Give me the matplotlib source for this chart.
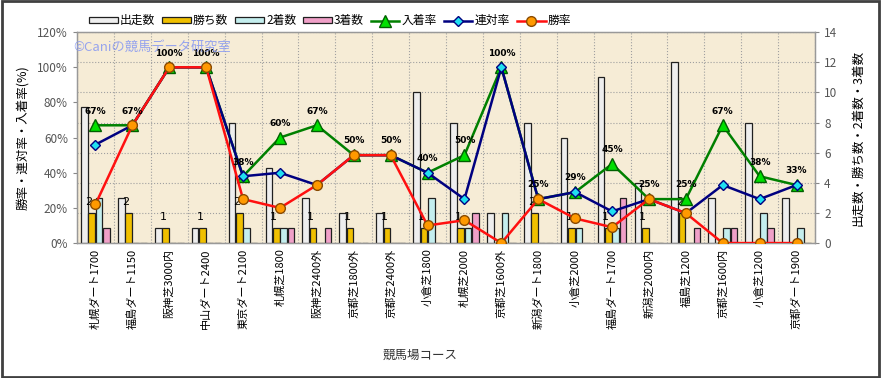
import numpy as np
import matplotlib
matplotlib.use("Agg")
import matplotlib.pyplot as plt
import matplotlib.transforms as mtransforms
from matplotlib.patches import Rectangle

plt.rcParams['font.family'] = ['Noto Sans CJK JP', 'DejaVu Sans']

# ----------------------- Data ---------------------------
courses = ["札幌ダート1700", "福島ダート1150", "阪神芝3000内", "中山ダート2400",
           "東京ダート2100", "札幌芝1800", "阪神芝2400外", "京都芝1800外",
           "京都芝2400外", "小倉芝1800", "札幌芝2000", "京都芝1600外",
           "新潟ダート1800", "小倉芝2000", "福島ダート1700", "新潟芝2000内",
           "福島芝1200", "京都芝1600内", "小倉芝1200", "京都ダート1900"]
starts = [9, 3, 1, 1, 8, 5, 3, 2, 2, 10, 8, 2, 8, 7, 11, 4, 12, 3, 8, 3]
wins = [2, 2, 1, 1, 2, 1, 1, 1, 1, 1, 1, 0, 2, 1, 1, 1, 2, 0, 0, 0]
seconds = [3, 0, 0, 0, 1, 1, 0, 0, 0, 3, 1, 2, 0, 1, 1, 0, 0, 1, 2, 1]
thirds = [1, 0, 0, 0, 0, 1, 1, 0, 0, 0, 2, 0, 0, 0, 3, 0, 1, 1, 1, 0]
win_rate = [22, 67, 100, 100, 25, 20, 33, 50, 50, 10, 13, 0, 25, 14, 9, 25, 17, 0, 0, 0]
rentai_rate = [56, 67, 100, 100, 38, 40, 33, 50, 50, 40, 25, 100, 25, 29, 18, 25, 17, 33, 25, 33]
place_rate = [67, 67, 100, 100, 38, 60, 67, 50, 50, 40, 50, 100, 25, 29, 45, 25, 25, 67, 38, 33]

x = np.arange(len(courses))

# ----------------------- Figure ---------------------------
fig = plt.figure(figsize=(8.81, 3.78), dpi=100)
fig.patches.append(Rectangle((0.002, 0.003), 0.996, 0.994, transform=fig.transFigure,
                             fill=False, edgecolor='#404040', linewidth=2))

ax2 = fig.add_axes([0.0874, 0.357, 0.8377, 0.558])   # counts (right axis), bars
ax = ax2.twinx()                                       # rates (left axis), lines
ax.yaxis.tick_left()
ax.yaxis.set_label_position("left")
ax2.yaxis.tick_right()
ax2.yaxis.set_label_position("right")
ax2.set_facecolor('#f6ecd6')

# bars
w = 0.18
edge = '#202020'
ax2.bar(x - 0.30, starts, w, color='#eeeeee', edgecolor=edge, linewidth=0.9, zorder=3, label='出走数')
ax2.bar(x - 0.10, wins, w, color='#f0c000', edgecolor=edge, linewidth=0.9, zorder=3, label='勝ち数')
ax2.bar(x + 0.10, seconds, w, color='#c4eeee', edgecolor=edge, linewidth=0.9, zorder=3, label='2着数')
ax2.bar(x + 0.30, thirds, w, color='#f0a0c8', edgecolor=edge, linewidth=0.9, zorder=3, label='3着数')

for i, v in enumerate(wins):
    if v > 0:
        ax2.annotate(str(v), (i - 0.17, v), xytext=(0, 4), textcoords='offset points',
                     ha='center', va='bottom', fontsize=8, family='DejaVu Sans', zorder=6)

# lines
ax.plot(x, place_rate, color='#008000', linewidth=1.8, marker='^', markersize=8,
        markerfacecolor='#00e000', markeredgecolor='#006000', zorder=4, label='入着率')
ax.plot(x, rentai_rate, color='#000080', linewidth=1.8, marker='D', markersize=5.5,
        markerfacecolor='#20e0f0', markeredgecolor='#000080', zorder=5, label='連対率')
ax.plot(x, win_rate, color='#ff1010', linewidth=1.8, marker='o', markersize=7,
        markerfacecolor='#ff9900', markeredgecolor='#8a4a00', zorder=6, label='勝率')

for i, v in enumerate(place_rate):
    ax.annotate(f"{v}%", (i, v), xytext=(0, 7), textcoords='offset points',
                ha='center', va='bottom', fontsize=6.5, fontweight='bold',
                family='DejaVu Sans', zorder=7)

# axes
ax.set_ylim(0, 120)
ax.set_yticks(np.arange(0, 121, 20))
ax.set_yticklabels([f"{t}%" for t in range(0, 121, 20)])
ax2.set_ylim(0, 14)
ax2.set_yticks(np.arange(0, 15, 2))
ax2.set_xlim(-0.5, len(courses) - 0.5)
ax2.set_xticks(x)
ax2.set_xticklabels(courses, rotation=90, fontsize=8)
ax2.set_xticks(np.arange(-0.5, len(courses)), minor=True)
shift = mtransforms.ScaledTranslation(-5 / 100, 0, fig.dpi_scale_trans)
for lbl in ax2.get_xticklabels():
    lbl.set_transform(lbl.get_transform() + shift)

ax2.set_axisbelow(True)
ax2.grid(True, which='minor', axis='x', linestyle=':', color='#a0a0a0', linewidth=0.8)
ax2.grid(True, which='major', axis='y', linestyle=':', color='#a0a0a0', linewidth=0.8)
ax2.tick_params(axis='x', which='both', length=0, pad=4)
ax2.tick_params(axis='y', labelsize=8.5, labelcolor='#555555', length=3, color='#888888')
ax.tick_params(axis='y', labelsize=8.5, labelcolor='#555555', length=3, color='#888888')

for a in (ax, ax2):
    for s in a.spines.values():
        s.set_color('#999999')
        s.set_linewidth(0.9)

ax.set_ylabel("勝率・連対率・入着率(%)", fontsize=9, labelpad=6)
ax2.set_ylabel("出走数・勝ち数・2着数・3着数", fontsize=9, labelpad=10)
fig.text(0.477, 0.06, "競馬場コース", ha='center', va='center', fontsize=9, color='#333333')

# watermark
fig.text(0.083, 0.876, "©Caniの競馬データ研究室", fontsize=9.5, color='#8c9cf0',
         alpha=0.9, va='center', ha='left', zorder=10)

# legend
h2, l2 = ax2.get_legend_handles_labels()
h1, l1 = ax.get_legend_handles_labels()
fig.legend(h2 + h1, l2 + l1, loc='center', bbox_to_anchor=(0.375, 0.945), ncol=7,
           frameon=False, fontsize=8.5, handlelength=2.4, handleheight=0.5,
           columnspacing=0.6, handletextpad=0.2)

fig.savefig("out.png", dpi=100)
